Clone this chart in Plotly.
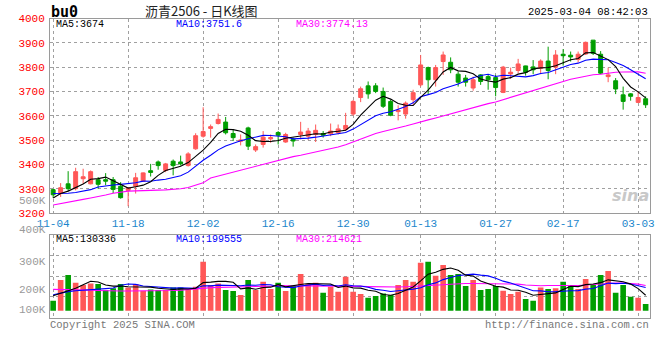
import pandas as pd
import plotly.graph_objects as go

# ---------------- data ----------------
holidays = ["2025-01-01", "2025-01-28", "2025-01-29", "2025-01-30",
            "2025-01-31", "2025-02-03", "2025-02-04"]
days = [d for d in pd.bdate_range("2024-11-04", "2025-03-04").strftime("%Y-%m-%d")
        if d not in holidays]

open_ = [3296, 3280, 3320, 3300, 3341, 3320, 3337, 3337, 3337, 3310,
         3293, 3310, 3331, 3374, 3410, 3375, 3413, 3410, 3395, 3464,
         3516, 3548, 3568, 3574, 3527, 3495, 3550, 3459, 3482, 3505,
         3531, 3492, 3503, 3523, 3516, 3523, 3527, 3526, 3530, 3544,
         3607, 3675, 3723, 3723, 3700, 3659, 3617, 3607, 3666, 3727,
         3798, 3748, 3823, 3820, 3771, 3755, 3714, 3768, 3761, 3757,
         3696, 3772, 3786, 3805, 3801, 3795, 3825, 3800, 3853, 3849,
         3832, 3854, 3911, 3853, 3761, 3744, 3686, 3690, 3655, 3670]
high = [3299, 3323, 3372, 3386, 3382, 3375, 3348, 3364, 3348, 3327,
        3305, 3365, 3367, 3402, 3416, 3406, 3420, 3436, 3450, 3528,
        3635, 3564, 3609, 3595, 3544, 3523, 3555, 3482, 3537, 3523,
        3537, 3530, 3510, 3575, 3550, 3564, 3537, 3568, 3564, 3612,
        3665, 3720, 3741, 3734, 3716, 3666, 3643, 3659, 3707, 3850,
        3802, 3809, 3864, 3840, 3782, 3768, 3761, 3771, 3771, 3768,
        3805, 3798, 3834, 3806, 3829, 3832, 3884, 3870, 3874, 3864,
        3864, 3905, 3911, 3866, 3798, 3755, 3720, 3693, 3700, 3680]
low = [3262, 3266, 3290, 3293, 3320, 3318, 3300, 3314, 3282, 3259,
       3228, 3280, 3329, 3350, 3378, 3368, 3355, 3395, 3391, 3460,
       3510, 3510, 3564, 3523, 3496, 3478, 3459, 3451, 3469, 3489,
       3482, 3489, 3473, 3503, 3500, 3492, 3510, 3516, 3523, 3537,
       3600, 3656, 3670, 3693, 3632, 3598, 3581, 3588, 3645, 3720,
       3689, 3720, 3768, 3775, 3720, 3720, 3703, 3727, 3707, 3680,
       3693, 3752, 3775, 3765, 3771, 3771, 3750, 3771, 3806, 3823,
       3819, 3850, 3850, 3771, 3738, 3689, 3625, 3662, 3652, 3632]
close = [3275, 3304, 3300, 3370, 3349, 3370, 3318, 3331, 3297, 3263,
         3303, 3345, 3365, 3367, 3395, 3402, 3395, 3402, 3443, 3518,
         3535, 3555, 3585, 3530, 3510, 3500, 3475, 3473, 3512, 3510,
         3520, 3523, 3496, 3533, 3537, 3540, 3520, 3537, 3546, 3560,
         3659, 3711, 3690, 3700, 3639, 3602, 3622, 3652, 3695, 3809,
         3748, 3798, 3850, 3789, 3738, 3738, 3748, 3741, 3748, 3716,
         3800, 3779, 3813, 3779, 3789, 3825, 3786, 3850, 3847, 3842,
         3853, 3902, 3857, 3775, 3768, 3710, 3659, 3680, 3675, 3645]
volume = [85000, 261000, 303000, 238000, 218000, 232000, 227000, 176000, 190000, 227000,
          198000, 227000, 170000, 181000, 176000, 176000, 198000, 198000, 176000, 204000,
          417000, 218000, 232000, 176000, 167000, 133000, 261000, 176000, 247000, 184000,
          238000, 167000, 210000, 312000, 227000, 238000, 153000, 204000, 162000, 289000,
          162000, 142000, 111000, 125000, 147000, 133000, 218000, 261000, 247000, 408000,
          417000, 298000, 388000, 303000, 312000, 210000, 261000, 176000, 184000, 210000,
          170000, 142000, 162000, 99000, 85000, 198000, 184000, 190000, 247000, 218000,
          184000, 269000, 218000, 303000, 337000, 153000, 218000, 119000, 111000, 57000]

# moving-average values for the first days (window starts before 11-04)
ma5_head = [3262, 3280, 3290, 3305]
ma10_head = [3280, 3280, 3281, 3284, 3289, 3296, 3307, 3312, 3315]
ma30_head = [3233, 3238, 3244, 3249, 3256, 3262, 3267, 3274, 3281, 3286,
             3290, 3291, 3293, 3294, 3294, 3295, 3297, 3300, 3305, 3314,
             3324, 3344, 3352, 3360, 3368, 3376, 3383, 3391, 3399]
vma5_head = [127000, 150000, 173000, 190000]
vma10_head = [136000, 150000, 162000, 170000, 176000, 180000, 184000, 188000, 193000]
vma30_head = [181000, 181000, 181000, 180000, 178000, 175000, 172000, 169000, 167000, 167000,
              167000, 167000, 167000, 167000, 168000, 170000, 172000, 175000, 178000, 181000,
              190000, 196000, 197000, 198000, 199000, 200000, 201000, 202000, 204000]

tick_days = ["2024-11-04", "2024-11-18", "2024-12-02", "2024-12-16", "2024-12-30",
             "2025-01-13", "2025-01-27", "2025-02-17", "2025-03-03"]
tick_labels = ["11-04", "11-18", "12-02", "12-16", "12-30", "01-13", "01-27", "02-17", "03-03"]
price_ticks = [3200, 3300, 3400, 3500, 3600, 3700, 3800, 3900, 4000]
vol_tick_labels = ["400K", "300K", "200K", "100K"]

ma_last = {"MA5": "3674", "MA10": "3751.6", "MA30": "3774.13"}
vma_last = {"MA5": "130336", "MA10": "199555", "MA30": "214621"}


def moving(values, n, head):
    s = pd.Series(values, dtype=float).rolling(n).mean()
    s.iloc[:len(head)] = head
    return s.round(2).tolist()


ma5 = moving(close, 5, ma5_head)
ma10 = moving(close, 10, ma10_head)
ma30 = moving(close, 30, ma30_head)
vma5 = moving(volume, 5, vma5_head)
vma10 = moving(volume, 10, vma10_head)
vma30 = moving(volume, 30, vma30_head)

# ---------------- styling ----------------
W, H = 660, 360
RED = "#ff5757"
GREEN = "#009e00"
GRID = "#a0a0a0"
BORDER = "#9a9a9a"
MONO = "Liberation Mono, DejaVu Sans Mono, monospace"
FS = 10


def px(x):
    return x / W


def py(y):
    return 1 - y / H


bar_colors = [RED if c >= o else GREEN for o, c in zip(open_, close)]

fig = go.Figure()
fig.add_trace(go.Candlestick(
    x=days, open=open_, high=high, low=low, close=close,
    increasing=dict(line=dict(color=RED, width=1), fillcolor=RED),
    decreasing=dict(line=dict(color=GREEN, width=1), fillcolor=GREEN),
    whiskerwidth=0, xaxis="x", yaxis="y", hoverinfo="skip"))
for vals, col in [(ma30, "#ff00ff"), (ma10, "#0000ff"), (ma5, "#000000")]:
    fig.add_trace(go.Scatter(x=days, y=vals, mode="lines", line=dict(color=col, width=1.1),
                             xaxis="x", yaxis="y", hoverinfo="skip"))
fig.add_trace(go.Bar(x=days, y=volume, marker=dict(color=bar_colors, line=dict(width=0)),
                     xaxis="x2", yaxis="y2", hoverinfo="skip"))
for vals, col in [(vma30, "#ff00ff"), (vma10, "#0000ff"), (vma5, "#000000")]:
    fig.add_trace(go.Scatter(x=days, y=vals, mode="lines", line=dict(color=col, width=1.1),
                             xaxis="x2", yaxis="y2", hoverinfo="skip"))

# volume axis: zero at pixel 310.7, 8500 lots per pixel, panel from 234.5 to 317.5
VPX = 8500
v_lo = -(317.5 - 310.7) * VPX
v_hi = (310.7 - 234.5) * VPX
v_grid = [v_lo + (v_hi - v_lo) * f for f in (0.25, 0.5, 0.75)]

xcommon = dict(type="category", range=[-0.42, 79.58], domain=[px(50), px(650)],
               tickvals=tick_days, showgrid=True, gridcolor=GRID, griddash="dot",
               gridwidth=1, showline=True, mirror=True, linecolor=BORDER, linewidth=1,
               ticks="", zeroline=False, fixedrange=True, automargin=False)

fig.update_layout(
    width=W, height=H, autosize=False,
    margin=dict(l=0, r=0, t=0, b=0, autoexpand=False),
    paper_bgcolor="white", plot_bgcolor="white",
    showlegend=False, bargap=0.25, boxgap=0.25,
    xaxis=dict(xcommon, anchor="y", ticktext=tick_labels,
               tickfont=dict(family=MONO, size=FS + 1, color="#1b86cc"),
               rangeslider=dict(visible=False)),
    xaxis2=dict(xcommon, anchor="y2", matches="x", showticklabels=False),
    yaxis=dict(domain=[py(213), py(18.5)], range=[3200, 4000], tickvals=price_ticks,
               tickfont=dict(family=MONO, size=FS + 1, color="#ff0000"),
               showgrid=True, gridcolor=GRID, griddash="dot", showline=True, mirror=True,
               linecolor=BORDER, linewidth=1, ticks="outside", ticklen=2,
               tickcolor="rgba(0,0,0,0)", zeroline=False, fixedrange=True, anchor="x",
               automargin=False),
    yaxis2=dict(domain=[py(317.5), py(234.5)], range=[v_lo, v_hi], tickvals=v_grid,
                showticklabels=False, showgrid=True, gridcolor=GRID, griddash="dot",
                showline=True, mirror=True, linecolor=BORDER, linewidth=1,
                zeroline=False, fixedrange=True, anchor="x2", automargin=False),
)

ann = []


def text(x, y, s, color="#000", size=FS, anchor="left", family=MONO, **kw):
    ann.append(dict(x=px(x), y=py(y), xref="paper", yref="paper", text=s, showarrow=False,
                    xanchor=anchor, yanchor="middle", font=dict(family=family, size=size, color=color),
                    borderpad=0, **kw))


# header
text(50, 12, "<b>bu0</b>", size=15, family="DejaVu Sans Mono")
text(201, 10, "沥青2506 - 日K线图", color="#222", size=13, anchor="center",
     family="Noto Sans CJK SC")
text(649, 12, "2025-03-04 08:42:03", anchor="right", size=FS + 0.5)

# MA legends
for (name, val), x, col in zip(ma_last.items(), (55, 175, 295), ("#000", "#0000ff", "#ff00ff")):
    text(x, 24.5, f"{name}:{val}", color=col)
for (name, val), x, col in zip(vma_last.items(), (55, 175, 295), ("#000", "#0000ff", "#ff00ff")):
    text(x, 239, f"{name}:{val}", color=col)

# stray volume label inside the price panel and volume axis labels
text(47, 200.5, "500K", color="#9a9a9a", size=FS + 1, anchor="right")
for lab, y in zip(vol_tick_labels, (230.5, 262, 290, 310)):
    text(47, y, lab, color="#9a9a9a", size=FS + 1, anchor="right")

# footer
text(49, 325, "Copyright 2025 SINA.COM", color="#777", size=FS + 0.5)
text(650, 325, "http://finance.sina.com.cn", color="#777", size=FS + 0.5, anchor="right")

# watermark
text(630, 196, "<b><i>sina</i></b>", color="#c8c8c8", size=16, anchor="center",
     family="DejaVu Sans")

fig.update_layout(annotations=ann)
fig.write_html("out.html", config={"displayModeBar": False},
               post_script="document.body.style.margin='0';document.body.style.padding='0';")
